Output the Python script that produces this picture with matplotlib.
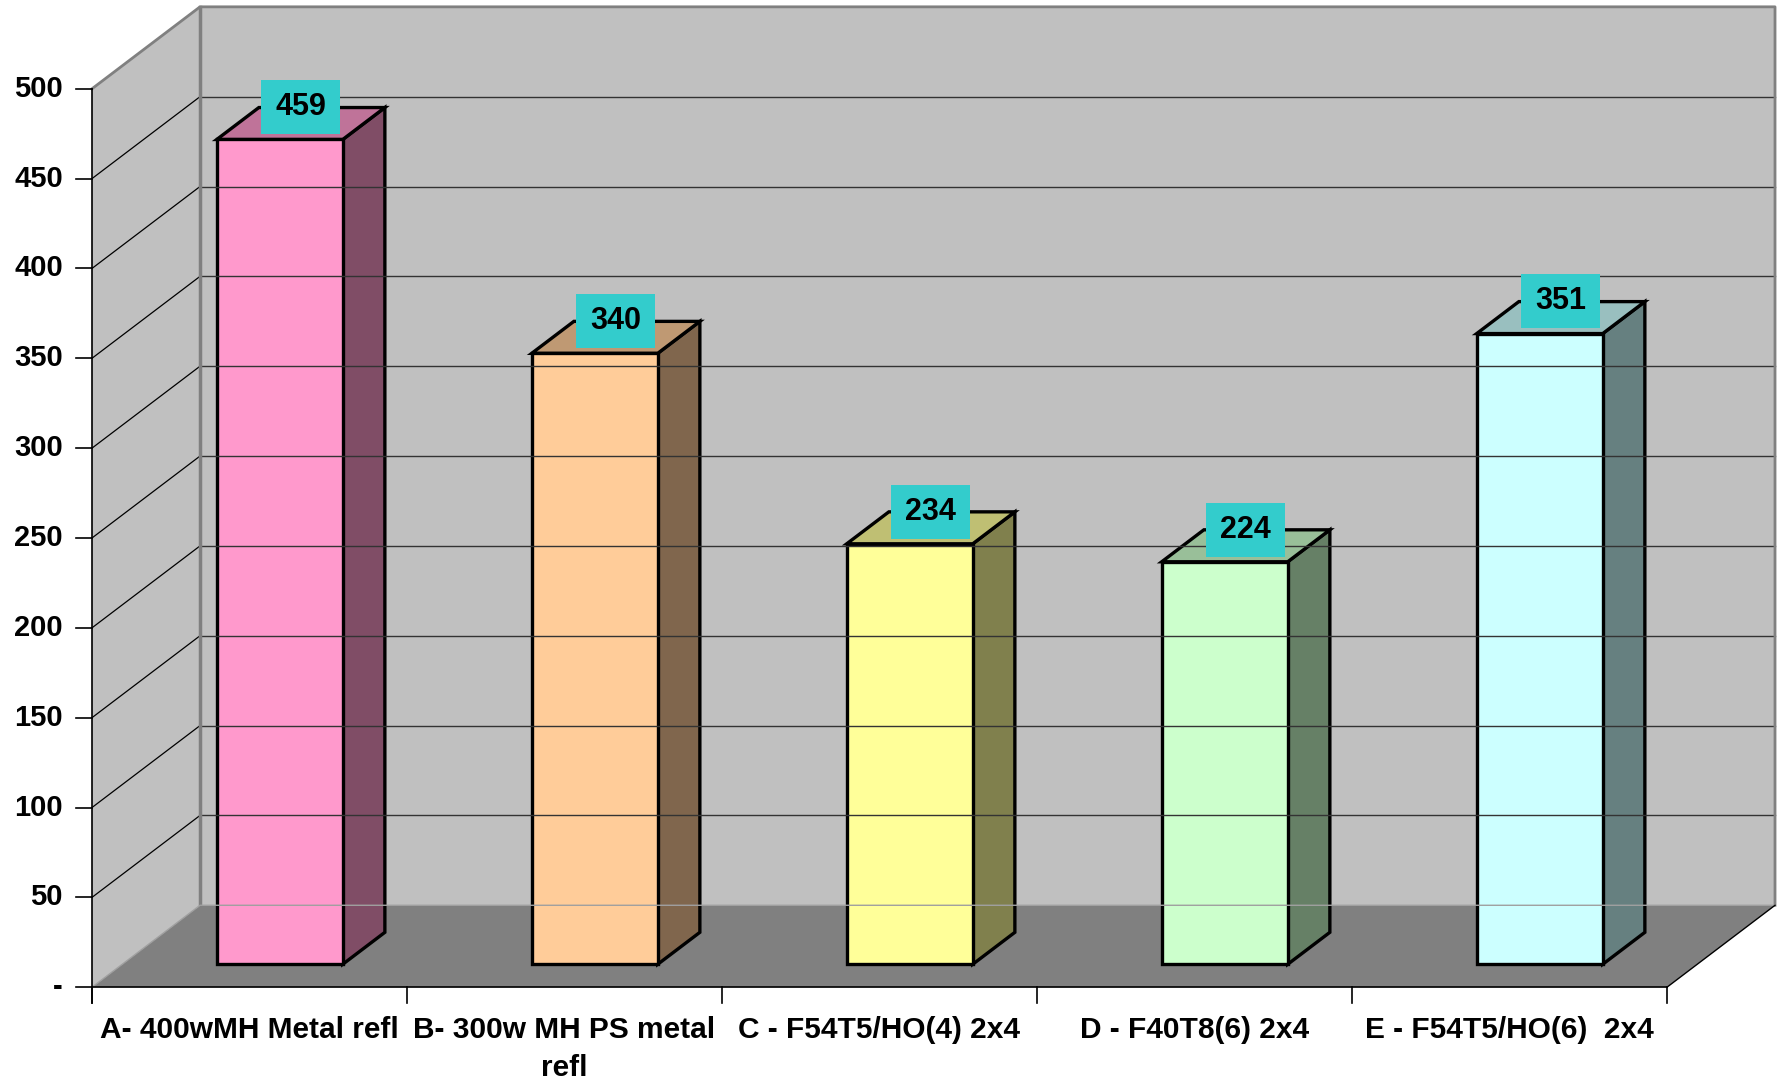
import numpy as np
import matplotlib.pyplot as plt
from matplotlib.patches import Polygon, Rectangle

plt.rcParams['font.family'] = ['Liberation Sans', 'DejaVu Sans']
plt.rcParams['font.weight'] = 'bold'

categories = ["A- 400wMH Metal refl", "B- 300w MH PS metal\nrefl",
              "C - F54T5/HO(4) 2x4", "D - F40T8(6) 2x4", "E - F54T5/HO(6)  2x4"]
values = [459, 340, 234, 224, 351]
front_colors = ["#FF99CC", "#FFCC99", "#FFFF99", "#CCFFCC", "#CCFFFF"]
y_ticks = [0, 50, 100, 150, 200, 250, 300, 350, 400, 450, 500]
y_tick_labels = ["-", "50", "100", "150", "200", "250", "300", "350", "400", "450", "500"]

YMAX = 500
DX = 0.343   # depth offset in category units
DY = 45.6    # depth offset in value units
Z0, Z1 = 0.28, 0.67   # bar depth range
GAP = 0.3             # bar starts 0.3 into its category


def shade(c, f):
    r, g, b = plt.matplotlib.colors.to_rgb(c)
    return (r * f, g * f, b * f)


fig = plt.figure(figsize=(17.81, 10.83), dpi=100)
ax = fig.add_axes([0, 0, 1, 1])
ax.set_xlim(-0.292, 5.362)
ax.set_ylim(-53.3, 549.4)
ax.axis('off')

n = len(categories)
wall = "#C0C0C0"
edge = "#808080"

# floor, side wall, back wall
ax.add_patch(Polygon([(0, 0), (n, 0), (n + DX, DY), (DX, DY)], closed=True,
                     facecolor="#808080", edgecolor="none"))
ax.add_patch(Polygon([(0, 0), (0, YMAX), (DX, YMAX + DY), (DX, DY)], closed=True,
                     facecolor=wall, edgecolor="none"))
ax.add_patch(Polygon([(DX, DY), (n + DX, DY), (n + DX, YMAX + DY), (DX, YMAX + DY)],
                     closed=True, facecolor=wall, edgecolor="none"))

# gridlines
for v in y_ticks[1:-1]:
    ax.plot([DX, n + DX], [v + DY, v + DY], color="#333333", lw=1.0)
    ax.plot([0, DX], [v, v + DY], color="black", lw=0.9)

# wall edges
ax.plot([0, DX, n + DX, n + DX], [YMAX, YMAX + DY, YMAX + DY, DY], color=edge, lw=2)
ax.plot([DX, DX], [DY, YMAX + DY], color=edge, lw=2.5)
ax.plot([0, DX, n + DX], [0, DY, DY], color="#A0A0A0", lw=1)
ax.plot([n, n + DX], [0, DY], color="black", lw=1)

# front axes
ax.plot([0, 0], [-9, YMAX], color="black", lw=1.2)
ax.plot([0, n], [0, 0], color="black", lw=1.2)
for v, lab in zip(y_ticks, y_tick_labels):
    ax.plot([-0.05, 0], [v, v], color="black", lw=1.2)
    ax.text(-0.092, v, lab, ha='right', va='center', fontsize=21, fontweight='bold')
for i in range(n + 1):
    ax.plot([i, i], [0, -9], color="black", lw=1.2)
for i, lab in enumerate(categories):
    ax.text(i + 0.5, -16, lab, ha='center', va='top', fontsize=21.5,
            fontweight='bold', multialignment='center', linespacing=1.45)

# bars
w = 1 - 2 * GAP
d = Z1 - Z0
for i, (v, c) in enumerate(zip(values, front_colors)):
    x0 = i + GAP + Z0 * DX
    x1 = x0 + w
    yb = Z0 * DY
    yt = v + Z0 * DY
    kw = dict(closed=True, edgecolor="black", lw=2.4, joinstyle='miter')
    ax.add_patch(Polygon([(x1, yb), (x1 + d * DX, yb + d * DY),
                          (x1 + d * DX, yt + d * DY), (x1, yt)],
                         facecolor=shade(c, 0.5), **kw))
    ax.add_patch(Polygon([(x0, yt), (x1, yt), (x1 + d * DX, yt + d * DY),
                          (x0 + d * DX, yt + d * DY)],
                         facecolor=shade(c, 0.75), **kw))
    ax.add_patch(Polygon([(x0, yb), (x1, yb), (x1, yt), (x0, yt)],
                         facecolor=c, **kw))
    # value label
    cx = (x0 + x1) / 2 + d / 2 * DX
    cy = yt + d / 2 * DY + 9
    bw, bh = 0.25, 30
    ax.add_patch(Rectangle((cx - bw / 2, cy - bh / 2), bw, bh,
                           facecolor="#33CCCC", edgecolor="none", zorder=5))
    ax.text(cx, cy, str(v), ha='center', va='center', fontsize=22,
            fontweight='bold', zorder=6)

fig.savefig("out.png", dpi=100)
